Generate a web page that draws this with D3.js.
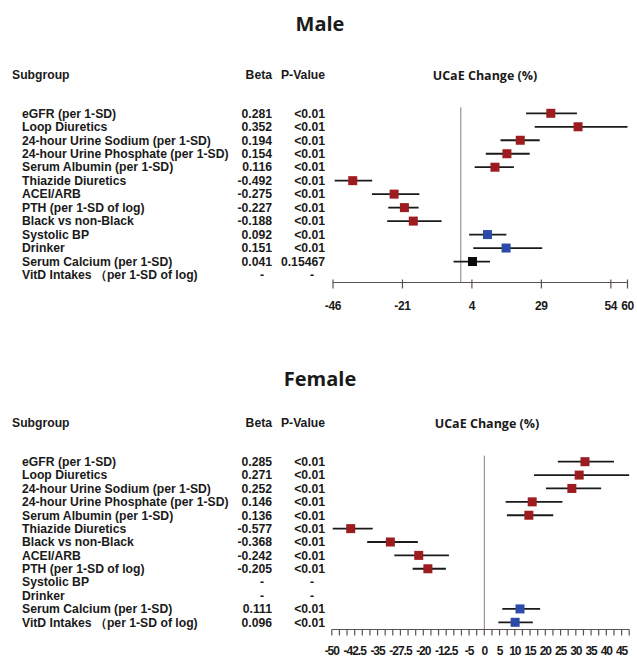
<!DOCTYPE html>
<html><head><meta charset="utf-8">
<script src="https://cdn.jsdelivr.net/npm/d3@7"></script>
<style>
body{margin:0;background:#fff;}
svg{display:block;}
.tbl{font-family:"Liberation Sans",Arial,sans-serif;font-weight:bold;font-size:12.2px;fill:#1a1a1a;}
.ttl{font-family:"Open Sans",sans-serif;font-weight:700;font-size:20px;fill:#1a1a1a;}
.hdr{font-family:"Open Sans",sans-serif;font-weight:700;font-size:12.5px;fill:#1a1a1a;}
.ax{font-family:"Liberation Sans",Arial,sans-serif;font-weight:bold;font-size:12px;fill:#1a1a1a;}
</style>
</head><body>
<svg id="c" width="637" height="656"></svg>
<script>
// ---------- Male ----------
const maleGroups = ["eGFR (per 1-SD)","Loop Diuretics","24-hour Urine Sodium (per 1-SD)","24-hour Urine Phosphate (per 1-SD)","Serum Albumin (per 1-SD)","Thiazide Diuretics","ACEI/ARB","PTH (per 1-SD of log)","Black vs non-Black","Systolic BP","Drinker","Serum Calcium (per 1-SD)","VitD Intakes （per 1-SD of log)"];
const maleBeta = ["0.281","0.352","0.194","0.154","0.116","-0.492","-0.275","-0.227","-0.188","0.092","0.151","0.041","-"];
const maleP = ["<0.01","<0.01","<0.01","<0.01","<0.01","<0.01","<0.01","<0.01","<0.01","<0.01","<0.01","0.15467","-"];
const maleEst = [32.4,42.2,21.4,16.6,12.3,-38.9,-24.0,-20.3,-17.1,9.6,16.3,4.2,null];
const maleLow = [23.5,26.6,14.3,9.0,5.0,-45.4,-32.0,-26.1,-26.5,3.0,4.5,-2.6,null];
const maleHigh = [41.8,60,28.4,24.8,19.1,-31.9,-14.9,-15.2,-6.9,16.4,29.3,10.5,null];
const maleColor = ["r","r","r","r","r","r","r","r","r","b","b","k",null];
const maleTicks = [-46,-21,4,29,54,60];

// ---------- Female ----------
const femaleGroups = ["eGFR (per 1-SD)","Loop Diuretics","24-hour Urine Sodium (per 1-SD)","24-hour Urine Phosphate (per 1-SD)","Serum Albumin (per 1-SD)","Thiazide Diuretics","Black vs non-Black","ACEI/ARB","PTH (per 1-SD of log)","Systolic BP","Drinker","Serum Calcium (per 1-SD)","VitD Intakes （per 1-SD of log)"];
const femaleBeta = ["0.285","0.271","0.252","0.146","0.136","-0.577","-0.368","-0.242","-0.205","-","-","0.111","0.096"];
const femaleP = ["<0.01","<0.01","<0.01","<0.01","<0.01","<0.01","<0.01","<0.01","<0.01","-","-","<0.01","<0.01"];
const femaleEst = [33.0,31.1,28.7,15.7,14.6,-43.8,-30.8,-21.5,-18.5,null,null,11.7,10.1];
const femaleLow = [24.1,16.3,20.2,7.0,7.4,-49.7,-38.4,-29.5,-23.5,null,null,5.9,4.6];
const femaleHigh = [42.5,47.5,38.3,25.6,22.6,-36.6,-21.8,-11.6,-12.6,null,null,18.3,15.9];
const femaleColor = ["r","r","r","r","r","r","r","r","r",null,null,"b","b"];
const femaleTickLabels = [-50,-42.5,-35,-27.5,-20,-12.5,-5,0,5,10,15,20,25,30,35,40,45];

const colorMap = {r:"#9c1c20", b:"#2c4ba8", k:"#0a0a0a"};
const svg = d3.select("#c");

function panel(cfg){
  const g = svg.append("g");
  g.append("text").attr("class","ttl").attr("x",cfg.titleX).attr("y",cfg.titleY).attr("text-anchor","middle").text(cfg.title);
  g.append("text").attr("class","tbl").attr("x",12).attr("y",cfg.hdrY).attr("dy","0.35em").text("Subgroup");
  g.append("text").attr("class","tbl").attr("x",272).attr("y",cfg.hdrY).attr("dy","0.35em").attr("text-anchor","end").text("Beta");
  g.append("text").attr("class","tbl").attr("x",325).attr("y",cfg.hdrY).attr("dy","0.35em").attr("text-anchor","end").text("P-Value");
  g.append("text").attr("class","hdr").attr("x",cfg.hdrX).attr("y",cfg.hdrY+1).attr("dy","0.35em").attr("text-anchor","middle").text("UCaE Change (%)");

  const y = d3.scalePoint().domain(cfg.groups).range(cfg.yRange);
  const x = d3.scaleLinear().domain(cfg.domain).range(cfg.xRange);

  const rows = cfg.groups.map((s,i)=>({s,beta:cfg.beta[i],p:cfg.p[i],est:cfg.est[i],lo:cfg.lo[i],hi:cfg.hi[i],c:cfg.color[i]}));

  g.selectAll(".lab").data(rows).join("text").attr("class","tbl").attr("x",22).attr("y",d=>y(d.s)).attr("dy","0.35em").text(d=>d.s);
  g.selectAll(".bt").data(rows).join("text").attr("class","tbl")
    .attr("x",d=>d.beta==="-"?262:272).attr("y",d=>y(d.s)).attr("dy","0.35em")
    .attr("text-anchor",d=>d.beta==="-"?"middle":"end").text(d=>d.beta);
  g.selectAll(".pv").data(rows).join("text").attr("class","tbl")
    .attr("x",d=>d.p==="-"?312:325).attr("y",d=>y(d.s)).attr("dy","0.35em")
    .attr("text-anchor",d=>d.p==="-"?"middle":"end").text(d=>d.p);

  // zero line
  g.append("line").attr("x1",x(0)).attr("x2",x(0)).attr("y1",cfg.yRange[0]-6).attr("y2",cfg.axisY)
    .attr("stroke","#8a7d76").attr("stroke-width",1);

  const pts = rows.filter(d=>d.est!==null);
  g.selectAll(".ci").data(pts).join("line")
    .attr("x1",d=>x(d.lo)).attr("x2",d=>x(d.hi)).attr("y1",d=>y(d.s)).attr("y2",d=>y(d.s))
    .attr("stroke","#1a1a1a").attr("stroke-width",1.8);
  const sz = 9;
  g.selectAll(".pt").data(pts).join("rect")
    .attr("x",d=>x(d.est)-sz/2).attr("y",d=>y(d.s)-sz/2).attr("width",sz).attr("height",sz)
    .attr("fill",d=>colorMap[d.c]);

  // axis
  const ag = g.append("g").attr("transform",`translate(0,${cfg.axisY})`);
  ag.append("line").attr("x1",cfg.xRange[0]).attr("x2",cfg.xRange[1]).attr("stroke","#5a5250").attr("stroke-width",1.2);
  ag.selectAll(".tk").data(cfg.tickMarks).join("line")
    .attr("x1",d=>x(d)).attr("x2",d=>x(d)).attr("y1",cfg.tickUp).attr("y2",6)
    .attr("stroke","#5a5250").attr("stroke-width",1.2);
  ag.selectAll(".tl").data(cfg.tickLabels).join("text").attr("class","ax")
    .attr("x",d=>x(d)).attr("y",cfg.labelDy).attr("text-anchor","middle")
    .attr("letter-spacing",cfg.ls).text(d=>d);
}

panel({
  title:"Male", titleX:320, titleY:31, hdrY:75, hdrX:485,
  groups:maleGroups, beta:maleBeta, p:maleP, est:maleEst, lo:maleLow, hi:maleHigh, color:maleColor,
  yRange:[113.3,275], domain:[-46,60], xRange:[333,627.5], axisY:282.5,
  tickMarks:maleTicks, tickLabels:maleTicks, tickUp:-3, labelDy:27, ls:-0.3
});
panel({
  title:"Female", titleX:320, titleY:386, hdrY:423, hdrX:487,
  groups:femaleGroups, beta:femaleBeta, p:femaleP, est:femaleEst, lo:femaleLow, hi:femaleHigh, color:femaleColor,
  yRange:[461.7,622.3], domain:[-50,47.5], xRange:[331.8,629.2], axisY:629.5,
  tickMarks:d3.range(-50,47.6,2.5), tickLabels:femaleTickLabels, tickUp:0, labelDy:25, ls:-1
});
</script>
</body></html>
